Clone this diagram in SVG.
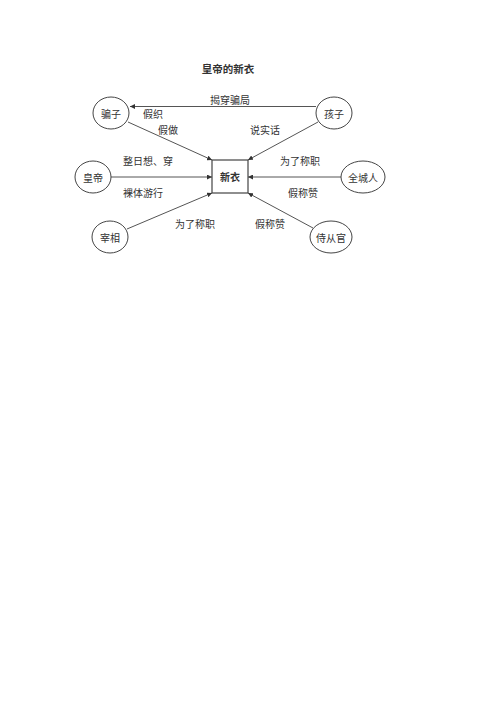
<svg xmlns="http://www.w3.org/2000/svg" width="500" height="708" viewBox="0 0 500 708">
<defs>
<marker id="ah" viewBox="0 0 10 10" refX="10" refY="5" markerWidth="5" markerHeight="5" orient="auto" markerUnits="userSpaceOnUse">
<path d="M0,0 L10,5 L0,10 z" fill="#333"/>
</marker>
<style>
.n{fill:#fff;stroke:#444;stroke-width:1}
.t{font-family:"Noto Sans CJK SC","Liberation Sans",sans-serif;font-size:10px;fill:#333;text-anchor:middle;dominant-baseline:central}
.c{stroke:#555;stroke-width:1;fill:none;marker-end:url(#ah)}
</style>
</defs>
<rect width="500" height="708" fill="#fff"/>
<text class="t" x="228" y="68" style="font-weight:bold;font-size:10.5px">皇帝的新衣</text>
<g id="connectors">
<line class="c" x1="316" y1="106.5" x2="130" y2="106.5"/>
<line class="c" x1="128" y1="122" x2="212" y2="160"/>
<line class="c" x1="318" y1="122" x2="248" y2="160"/>
<line class="c" x1="111" y1="177" x2="212" y2="177"/>
<line class="c" x1="341" y1="177" x2="248" y2="177"/>
<line class="c" x1="127" y1="229" x2="212" y2="193"/>
<line class="c" x1="313" y1="228" x2="248" y2="193"/>
<text class="t" x="230" y="99">揭穿骗局</text>
<text class="t" x="153" y="113">假织</text>
<text class="t" x="168" y="129">假做</text>
<text class="t" x="265" y="129">说实话</text>
<text class="t" x="148" y="160">整日想、穿</text>
<text class="t" x="143" y="192">裸体游行</text>
<text class="t" x="195" y="223">为了称职</text>
<text class="t" x="300" y="160">为了称职</text>
<text class="t" x="303" y="192">假称赞</text>
<text class="t" x="270" y="223">假称赞</text>
</g>
<g id="n-pianzi"><ellipse class="n" cx="111" cy="113" rx="18" ry="16"/><text class="t" x="111" y="113">骗子</text></g>
<g id="n-haizi"><ellipse class="n" cx="334" cy="113" rx="18" ry="16"/><text class="t" x="334" y="113">孩子</text></g>
<g id="n-huangdi"><ellipse class="n" cx="93" cy="177" rx="18" ry="16"/><text class="t" x="93" y="177">皇帝</text></g>
<g id="n-xinyi"><rect x="212" y="160" width="36" height="33" fill="#fff" stroke="#444" stroke-width="1.2"/><text class="t" x="230" y="176.5" style="font-weight:bold">新衣</text></g>
<g id="n-quancheng"><ellipse class="n" cx="363" cy="177" rx="22" ry="16"/><text class="t" x="363" y="177">全城人</text></g>
<g id="n-zaixiang"><ellipse class="n" cx="110" cy="237" rx="18" ry="16"/><text class="t" x="110" y="237">宰相</text></g>
<g id="n-shicong"><ellipse class="n" cx="331" cy="237" rx="21" ry="16"/><text class="t" x="331" y="237">侍从官</text></g>
</svg>
